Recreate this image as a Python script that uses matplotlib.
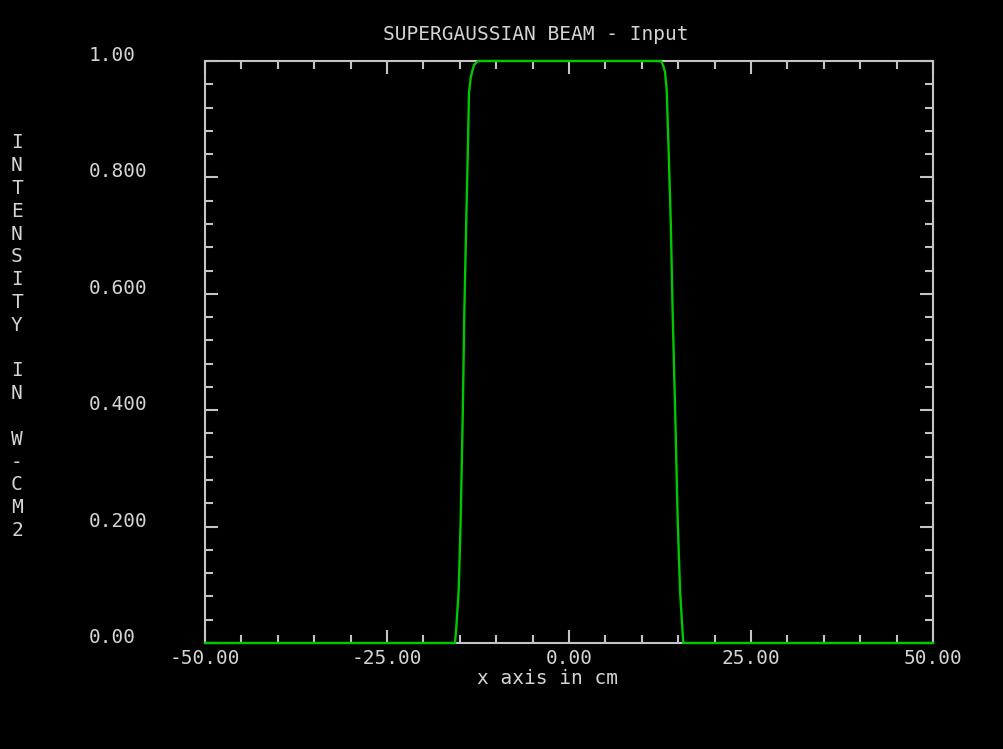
import numpy as np
import matplotlib.pyplot as plt
from matplotlib.ticker import MultipleLocator

# beam profile (x in cm, intensity normalised)
x_cm = [-50.0, -15.66, -15.48, -15.15, -14.88, -14.60, -14.38, -14.11, -13.87,
        -13.74, -13.50, -13.32, -13.05, -12.54,
        12.64, 12.91, 13.19, 13.42, 13.64, 13.97, 14.24, 14.60, 14.93, 15.25,
        15.56, 15.70, 50.0]
intensity = [0.0, 0.0, 0.027, 0.091, 0.211, 0.390, 0.567, 0.727, 0.861,
             0.945, 0.971, 0.981, 0.993, 1.0,
             1.0, 0.993, 0.981, 0.950, 0.864, 0.727, 0.567, 0.390, 0.211, 0.091,
             0.027, 0.0, 0.0]

x_ticks = [-50, -25, 0, 25, 50]
x_labels = ['-50.00', '-25.00', '0.00', '25.00', '50.00']
y_ticks = [0.0, 0.2, 0.4, 0.6, 0.8, 1.0]
y_labels = ['0.00', '0.200', '0.400', '0.600', '0.800', '1.00']
ylabel_letters = list('INTENSITY') + [''] + list('IN') + [''] + list('W-CM2')

fg = '#d4d4d4'
axis_col = '#c4c4c4'
green = '#00c800'
font = 'DejaVu Sans Mono'
fs = 14

W, H = 1004, 749
fig = plt.figure(figsize=(W / 100, H / 100), dpi=100, facecolor='black')
ax = fig.add_axes([205 / W, 1 - 643 / H, 728 / W, 582 / H], facecolor='black')

ax.plot(x_cm, intensity, color=green, linewidth=1.7, clip_on=False, zorder=5)

ax.set_xlim(-50, 50)
ax.set_ylim(0, 1)

for s in ax.spines.values():
    s.set_color(axis_col)
    s.set_linewidth(1.5)

ax.set_xticks(x_ticks)
ax.set_xticklabels(x_labels, family=font, fontsize=fs, color=fg)
ax.set_yticks(y_ticks)
ax.set_yticklabels(y_labels, family=font, fontsize=fs, color=fg,
                   ha='left', va='baseline')
ax.xaxis.set_minor_locator(MultipleLocator(5))
ax.yaxis.set_minor_locator(MultipleLocator(0.04))

ax.tick_params(which='both', direction='in', colors=axis_col, width=1.5,
               top=True, right=True)
ax.tick_params(which='major', length=9.5)
ax.tick_params(which='minor', length=5.5)
ax.tick_params(axis='x', which='major', pad=4, labelcolor=fg)
ax.tick_params(axis='y', which='major', pad=84, labelcolor=fg)

fig.text(536 / W, 1 - 35 / H, 'SUPERGAUSSIAN BEAM - Input', family=font,
         fontsize=fs, color=fg, ha='center', va='center')
fig.text(548 / W, 1 - 679 / H, 'x axis in cm', family=font,
         fontsize=fs, color=fg, ha='center', va='center')

# vertical stacked y label
top_px, step_px = 143, 22.8
for i, ch in enumerate(ylabel_letters):
    if ch:
        fig.text(17 / W, 1 - (top_px + i * step_px) / H, ch, family=font,
                 fontsize=fs, color=fg, ha='center', va='center')

fig.savefig('out.png', dpi=100, facecolor='black')
